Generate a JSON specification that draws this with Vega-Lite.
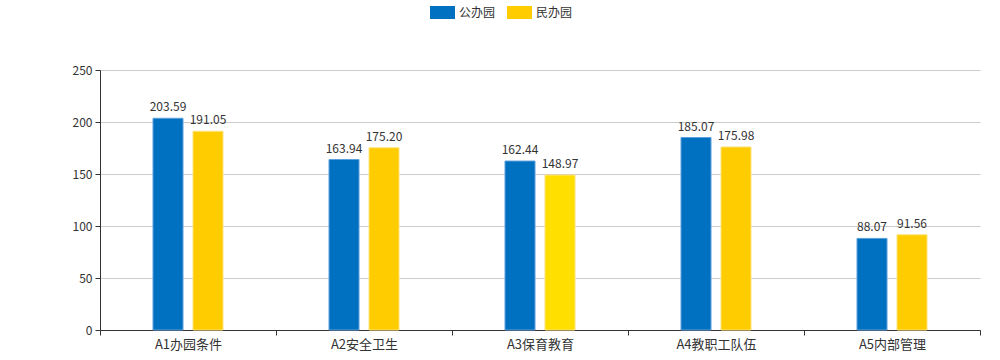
{
  "$schema": "https://vega.github.io/schema/vega-lite/v6.json",
  "width": 880,
  "height": 260,
  "autosize": {"type": "none"},
  "padding": {"left": 100, "top": 70, "right": 20, "bottom": 30},
  "background": "#ffffff",
  "config": {
    "font": "Noto Sans CJK SC",
    "view": {"stroke": null}
  },
  "data": {
    "values": [
      {"cat": "A1办园条件", "type": "公办园", "value": 203.59},
      {"cat": "A1办园条件", "type": "民办园", "value": 191.05},
      {"cat": "A2安全卫生", "type": "公办园", "value": 163.94},
      {"cat": "A2安全卫生", "type": "民办园", "value": 175.20},
      {"cat": "A3保育教育", "type": "公办园", "value": 162.44},
      {"cat": "A3保育教育", "type": "民办园", "value": 148.97},
      {"cat": "A4教职工队伍", "type": "公办园", "value": 185.07},
      {"cat": "A4教职工队伍", "type": "民办园", "value": 175.98},
      {"cat": "A5内部管理", "type": "公办园", "value": 88.07},
      {"cat": "A5内部管理", "type": "民办园", "value": 91.56}
    ]
  },
  "encoding": {
    "x": {
      "field": "cat",
      "type": "nominal",
      "sort": null,
      "scale": {"paddingInner": 0, "paddingOuter": 0},
      "axis": {
        "title": null,
        "labelAngle": 0,
        "labelFontSize": 13,
        "labelColor": "#333333",
        "labelPadding": 3,
        "tickBand": "extent",
        "tickSize": 5,
        "tickColor": "#333333",
        "domainColor": "#333333",
        "grid": false
      }
    },
    "xOffset": {
      "field": "type",
      "type": "nominal",
      "scale": {"range": [53, 123], "paddingInner": 0.25, "paddingOuter": 0}
    },
    "y": {
      "field": "value",
      "type": "quantitative",
      "scale": {"domain": [0, 250]},
      "axis": {
        "title": null,
        "values": [0, 50, 100, 150, 200, 250],
        "labelFontSize": 12,
        "labelColor": "#333333",
        "labelPadding": 3,
        "tickSize": 5,
        "tickColor": "#333333",
        "domainColor": "#333333",
        "gridColor": "#cccccc"
      }
    }
  },
  "layer": [
    {
      "mark": {"type": "bar", "strokeWidth": 1},
      "encoding": {
        "color": {
          "condition": {"test": "datum.cat === 'A3保育教育' && datum.type === '民办园'", "value": "#FFDF00"},
          "field": "type",
          "type": "nominal",
          "scale": {"domain": ["公办园", "民办园"], "range": ["#0070C0", "#FFCC00"]},
          "legend": {
            "title": null,
            "orient": "none",
            "direction": "horizontal",
            "legendX": 330,
            "legendY": -70,
            "symbolType": "M-1,-0.52 h2 v1.04 h-2 Z",
            "symbolSize": 625,
            "symbolStrokeWidth": 0,
            "labelFontSize": 12,
            "labelColor": "#333333",
            "labelOffset": 4,
            "columnPadding": 11
          }
        },
        "stroke": {
          "field": "type",
          "type": "nominal",
          "scale": {"domain": ["公办园", "民办园"], "range": ["#5aa0dc", "#ffe27a"]},
          "legend": null
        }
      }
    },
    {
      "mark": {"type": "text", "baseline": "bottom", "dy": -4, "fontSize": 12, "color": "#333333"},
      "encoding": {
        "text": {"field": "value", "type": "quantitative", "format": ".2f"}
      }
    }
  ]
}
